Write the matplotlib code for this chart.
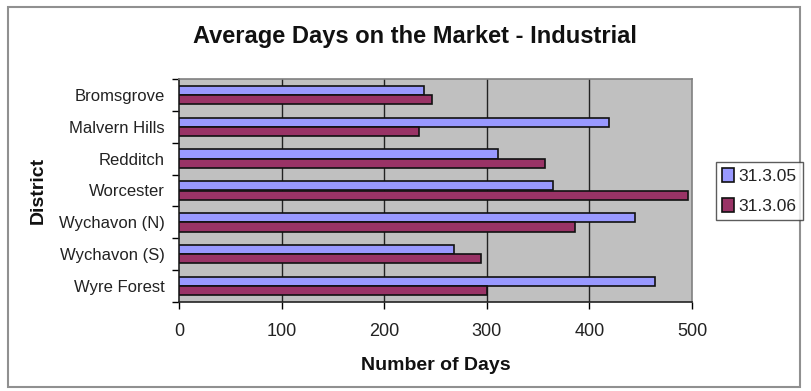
import numpy as np
import matplotlib.pyplot as plt
from matplotlib.patches import Rectangle

plt.rcParams['font.family'] = ['Liberation Sans', 'DejaVu Sans']

districts = ["Bromsgrove", "Malvern Hills", "Redditch", "Worcester",
             "Wychavon (N)", "Wychavon (S)", "Wyre Forest"]
days_2005 = [239, 419, 311, 365, 444, 268, 464]
days_2006 = [247, 234, 357, 496, 386, 294, 300]
series_labels = ["31.3.05", "31.3.06"]
x_ticks = [0, 100, 200, 300, 400, 500]

fig = plt.figure(figsize=(8.12, 3.91), dpi=100)
ax = fig.add_axes([179 / 812, 1 - 302 / 391, (692 - 179) / 812, (302 - 79) / 391])

y = np.arange(len(districts))
h = 0.29
ax.barh(y - h / 2, days_2005, height=h, color="#9999ff", edgecolor="#111111",
        linewidth=1.2, label=series_labels[0], zorder=3)
ax.barh(y + h / 2, days_2006, height=h, color="#993366", edgecolor="#111111",
        linewidth=1.2, label=series_labels[1], zorder=3)

ax.set_facecolor("#c0c0c0")
ax.set_xlim(0, 500)
ax.set_ylim(len(districts) - 0.5, -0.5)

ax.set_xticks(x_ticks)
ax.set_xticklabels([str(t) for t in x_ticks], fontsize=13, color="#222222")
ax.tick_params(axis="x", direction="out", length=5, width=1, pad=10)
ax.set_yticks(y)
ax.set_yticklabels(districts, fontsize=12, color="#222222")
ax.set_yticks(np.arange(-0.5, len(districts), 1), minor=True)
ax.tick_params(axis="y", which="major", length=0, pad=10)
ax.tick_params(axis="y", which="minor", direction="out", length=5, width=1)

for x in x_ticks[1:-1]:
    ax.axvline(x, color="#222222", linewidth=1, zorder=1)

for side in ["left", "bottom"]:
    ax.spines[side].set_color("#222222")
    ax.spines[side].set_linewidth(1.2)
for side in ["top", "right"]:
    ax.spines[side].set_color("#808080")
    ax.spines[side].set_linewidth(1.2)

ax.set_xlabel("Number of Days", fontsize=14, fontweight="bold", labelpad=12,
              color="#111111")
fig.text(38 / 812, 1 - 190 / 391, "District", rotation=90, fontsize=14,
         fontweight="bold", ha="center", va="center", color="#111111")
fig.text(415 / 812, 1 - 36 / 391, "Average Days on the Market - Industrial",
         fontsize=17, fontweight="bold", ha="center", va="center",
         color="#111111")

leg = fig.legend(loc="center left", bbox_to_anchor=(716 / 812, 1 - 191 / 391),
                 fontsize=12.5, frameon=True, fancybox=False, handlelength=0.7,
                 handleheight=0.9, handletextpad=0.25, borderpad=0.35,
                 labelspacing=0.8, borderaxespad=0)
leg.get_frame().set_edgecolor("#333333")
leg.get_frame().set_linewidth(1)
for t in leg.get_texts():
    t.set_color("#222222")

# outer chart frame
fig.add_artist(Rectangle((8 / 812, 4 / 391), 792 / 812, 380 / 391,
                         transform=fig.transFigure, fill=False,
                         edgecolor="#909090", linewidth=1.5))

fig.savefig("out.png", dpi=100)
